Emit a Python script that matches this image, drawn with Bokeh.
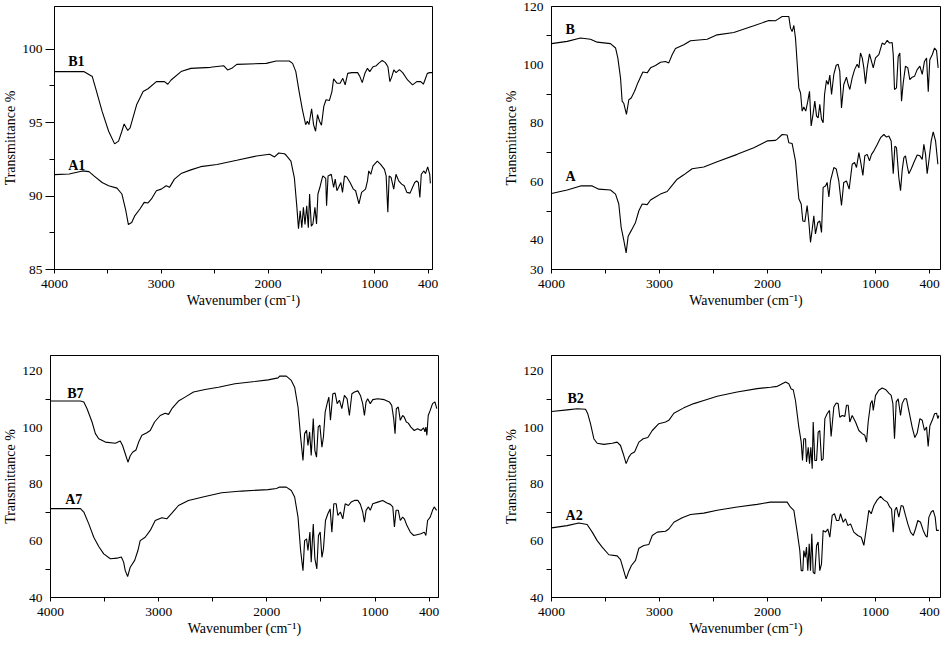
import numpy as np
from bokeh.plotting import figure
from bokeh.models import Range1d, FixedTicker, Label
from bokeh.layouts import column, row
from bokeh.embed import file_html
from bokeh.resources import INLINE

# ---------------- data (wavenumber cm-1, transmittance %) ----------------
b1_w = [4000, 3726, 3646, 3615, 3554, 3493, 3437, 3400, 3369, 3348, 3314, 3292, 3231, 3170, 3124, 3046,
        2970, 2939, 2908, 2815, 2723, 2539, 2416, 2379, 2340, 2293, 2017, 1924, 1801, 1770, 1740, 1709,
        1678, 1648, 1632, 1617, 1592, 1574, 1555, 1537, 1518, 1500, 1478, 1457, 1426, 1402, 1386, 1355,
        1325, 1300, 1278, 1254, 1217, 1161, 1140, 1118, 1093, 1069, 1048, 1017, 983, 958, 917, 882, 853,
        831, 809, 787, 761, 724, 687, 632, 576, 529, 484, 455, 437, 410, 382, 355]
b1_t = [98.47, 98.47, 98.13, 97.34, 95.76, 94.41, 93.55, 93.74, 94.41, 94.91, 94.46, 94.64, 96.21, 97.11,
        97.3, 97.79, 97.79, 97.61, 97.9, 98.47, 98.69, 98.76, 98.87, 98.58, 98.69, 98.96, 99.03, 99.19,
        99.19, 99.03, 98.47, 97.11, 95.87, 94.86, 95.09, 94.86, 95.94, 94.86, 94.41, 95.54, 95.09, 94.82,
        96.1, 96.55, 96.5, 97.11, 97.97, 97.68, 97.68, 98.01, 97.57, 98.35, 98.4, 98.4, 98.13, 97.72,
        98.35, 98.69, 98.47, 98.8, 98.87, 99.03, 99.23, 99.08, 98.8, 97.79, 98.13, 98.58, 98.4, 98.6,
        98.4, 97.9, 97.57, 97.79, 97.79, 97.61, 97.9, 98.35, 98.4, 98.4]

a1_w = [4000, 3862, 3738, 3677, 3631, 3554, 3493, 3415, 3369, 3332, 3308, 3277, 3247, 3200, 3160, 3124,
        3092, 3046, 3000, 2954, 2923, 2877, 2815, 2723, 2631, 2478, 2293, 2109, 1985, 1939, 1900, 1847,
        1832, 1786, 1754, 1730, 1715, 1699, 1684, 1669, 1654, 1638, 1623, 1611, 1595, 1580, 1561, 1546,
        1533, 1515, 1500, 1487, 1460, 1452, 1438, 1408, 1386, 1371, 1355, 1340, 1318, 1303, 1284, 1263,
        1232, 1201, 1180, 1149, 1124, 1087, 1069, 1057, 1038, 1017, 972, 935, 892, 873, 854, 839, 817,
        788, 762, 732, 699, 670, 640, 604, 577, 552, 530, 511, 494, 478, 449, 431, 406, 383, 376]
a1_t = [91.46, 91.5, 91.71, 91.66, 91.37, 90.92, 90.7, 90.54, 90.14, 89.0, 88.06, 88.2, 88.67, 89.12,
        89.57, 89.53, 89.8, 90.36, 90.47, 90.7, 90.59, 91.15, 91.53, 91.78, 92.0, 92.15, 92.43, 92.72,
        92.84, 92.66, 92.93, 92.88, 92.79, 92.38, 91.26, 89.23, 87.77, 89.0, 87.84, 89.23, 88.06, 89.34,
        87.84, 90.14, 87.95, 88.1, 89.23, 88.1, 90.14, 90.58, 91.03, 91.37, 91.2, 89.34, 91.37, 91.48,
        90.58, 91.15, 90.36, 90.58, 90.92, 90.25, 91.37, 91.3, 90.92, 90.47, 90.36, 89.46, 90.25, 90.47,
        91.03, 91.71, 91.48, 92.05, 92.38, 92.15, 91.82, 91.37, 88.89, 91.37, 91.26, 90.47, 91.48, 91.03,
        90.81, 90.7, 90.25, 90.2, 90.58, 90.92, 91.03, 90.92, 89.9, 91.48, 91.71, 91.53, 91.98, 91.48,
        90.86]

b_w = [4000, 3855, 3731, 3639, 3577, 3454, 3407, 3386, 3361, 3346, 3330, 3306, 3284, 3262, 3231, 3201,
       3154, 3114, 3083, 3037, 2991, 2944, 2914, 2883, 2852, 2775, 2713, 2559, 2466, 2312, 2127, 1988,
       1926, 1910, 1864, 1803, 1787, 1772, 1756, 1741, 1710, 1694, 1679, 1664, 1646, 1627, 1611, 1596,
       1581, 1562, 1546, 1531, 1516, 1500, 1485, 1472, 1454, 1438, 1423, 1407, 1386, 1364, 1346, 1331,
       1315, 1294, 1269, 1253, 1238, 1216, 1194, 1170, 1154, 1139, 1123, 1108, 1093, 1077, 1056, 1037,
       1021, 1000, 963, 926, 900, 870, 844, 815, 803, 789, 767, 748, 730, 711, 692, 667, 641, 619, 593,
       567, 537, 507, 481, 456, 433, 414, 397, 370, 344, 322, 304]
b_t = [107.3, 108.07, 109.2, 108.8, 107.8, 107.3, 105.8, 102.4, 95.6, 87.6, 86.8, 83.1, 88.1, 88.7, 91.0,
       93.85, 97.6, 97.3, 99.0, 99.8, 100.9, 101.2, 100.7, 103.5, 105.6, 106.9, 108.3, 108.8, 110.3, 111.1,
       113.4, 115.2, 115.1, 115.5, 116.6, 116.6, 112.6, 111.4, 113.5, 109.2, 92.15, 90.4, 84.2, 85.6, 84.2,
       87.6, 91.0, 79.1, 82.5, 87.6, 82.5, 81.9, 86.5, 81.4, 80.2, 89.9, 94.7, 93.3, 96.5, 89.9, 96.8,
       99.9, 100.2, 97.9, 85.3, 93.3, 95.8, 93.3, 91.6, 95.6, 98.4, 100.2, 99.0, 104.1, 102.4, 99.0, 93.6,
       99.0, 103.8, 101.2, 99.0, 102.4, 103.5, 107.5, 107.0, 108.4, 107.5, 107.7, 103.5, 91.6, 92.15,
       102.9, 104.1, 87.6, 93.9, 99.6, 99.0, 95.0, 95.8, 96.1, 98.4, 99.6, 96.8, 101.2, 102.4, 90.8,
       101.8, 103.5, 105.8, 104.9, 99.0]

a_w = [4000, 3855, 3731, 3623, 3562, 3454, 3407, 3377, 3355, 3330, 3309, 3290, 3262, 3222, 3191, 3160,
       3114, 3083, 3037, 2991, 2929, 2898, 2836, 2775, 2698, 2590, 2466, 2281, 2127, 2003, 1926, 1910,
       1864, 1818, 1803, 1772, 1741, 1710, 1688, 1673, 1654, 1633, 1617, 1602, 1586, 1571, 1556, 1534,
       1516, 1500, 1485, 1463, 1448, 1432, 1417, 1386, 1364, 1340, 1315, 1294, 1269, 1244, 1216, 1194,
       1176, 1154, 1139, 1117, 1099, 1077, 1056, 1037, 1015, 981, 944, 907, 878, 852, 826, 803, 785,
       767, 741, 722, 704, 685, 667, 648, 630, 604, 574, 537, 507, 481, 463, 444, 426, 407, 381, 359,
       333, 307]
a_t = [56.0, 57.2, 58.6, 58.6, 57.5, 57.2, 55.8, 52.4, 44.4, 39.9, 35.7, 41.4, 43.3, 46.1, 50.1, 52.4,
       52.2, 53.8, 54.8, 55.8, 56.7, 58.1, 60.9, 62.4, 64.5, 65.1, 66.9, 69.4, 71.7, 74.0, 74.2, 74.6,
       76.2, 76.0, 73.4, 73.1, 67.2, 54.2, 52.4, 46.6, 46.4, 51.9, 46.1, 39.3, 43.8, 48.4, 42.2, 46.1,
       46.6, 42.7, 58.1, 58.6, 59.8, 54.8, 60.3, 64.9, 64.4, 60.3, 51.9, 59.8, 60.3, 57.5, 66.0, 66.6,
       64.9, 70.0, 67.2, 62.2, 68.9, 69.4, 67.2, 69.4, 70.6, 72.8, 75.1, 76.2, 75.3, 75.7, 74.0, 62.8,
       72.2, 71.7, 61.5, 57.0, 63.9, 68.3, 68.9, 65.5, 62.8, 64.4, 66.6, 69.2, 68.9, 67.7, 72.8, 69.4,
       62.8, 67.2, 74.0, 77.1, 74.0, 66.0]

b7_w = [4000, 3723, 3692, 3662, 3616, 3585, 3554, 3493, 3401, 3355, 3333, 3309, 3284, 3263, 3241, 3210,
        3185, 3155, 3109, 3078, 3038, 2986, 2940, 2909, 2878, 2817, 2756, 2678, 2571, 2448, 2295, 2111,
        1988, 1896, 1882, 1820, 1774, 1743, 1712, 1688, 1666, 1651, 1633, 1620, 1605, 1590, 1571, 1556,
        1541, 1525, 1510, 1491, 1477, 1461, 1443, 1427, 1412, 1390, 1369, 1350, 1329, 1307, 1283, 1258,
        1237, 1214, 1190, 1159, 1135, 1114, 1098, 1083, 1068, 1044, 1021, 970, 897, 841, 815, 793, 778,
        764, 742, 720, 694, 675, 653, 631, 602, 565, 528, 491, 461, 447, 436, 425, 410, 388, 362, 336, 315]
b7_t = [109.4, 109.4, 109.1, 106.7, 102.0, 97.9, 96.1, 94.9, 94.5, 95.3, 93.6, 90.8, 87.8, 90.1, 91.3,
        92.1, 94.9, 97.3, 98.2, 99.0, 102.0, 104.3, 105.1, 104.7, 106.7, 109.4, 110.8, 112.6, 113.5,
        114.3, 115.5, 116.3, 116.9, 117.6, 118.2, 118.2, 116.7, 114.3, 107.3, 96.7, 88.4, 97.9, 99.1,
        93.7, 98.5, 90.2, 103.2, 91.9, 89.6, 100.3, 100.9, 93.1, 96.7, 105.5, 108.5, 110.8, 102.6, 112.0,
        112.2, 108.5, 109.7, 106.7, 111.4, 110.2, 104.3, 112.0, 112.6, 113.0, 111.4, 108.5, 104.3, 109.1,
        110.2, 108.5, 109.9, 110.2, 109.9, 109.1, 107.9, 103.2, 97.9, 106.7, 107.3, 102.6, 104.3, 103.7,
        102.0, 101.6, 100.2, 99.0, 99.6, 99.0, 99.9, 98.5, 100.2, 97.3, 104.3, 106.1, 108.5, 109.1, 106.7]

a7_w = [4000, 3723, 3692, 3646, 3600, 3554, 3508, 3447, 3385, 3345, 3324, 3309, 3287, 3263, 3222, 3192,
        3171, 3125, 3078, 3032, 2971, 2925, 2878, 2817, 2725, 2571, 2418, 2233, 1988, 1911, 1882, 1820,
        1774, 1743, 1712, 1688, 1666, 1651, 1633, 1620, 1602, 1590, 1571, 1556, 1538, 1523, 1507, 1491,
        1477, 1458, 1436, 1415, 1399, 1381, 1359, 1344, 1320, 1298, 1276, 1246, 1221, 1190, 1159, 1135,
        1114, 1098, 1083, 1061, 1044, 1021, 970, 915, 867, 830, 803, 785, 767, 742, 720, 694, 675, 646,
        609, 571, 535, 491, 454, 436, 417, 388, 362, 344, 317]
a7_t = [71.4, 71.4, 70.2, 66.0, 61.3, 58.0, 55.4, 53.7, 53.9, 54.3, 52.5, 49.5, 47.4, 50.7, 53.1, 56.6,
        60.1, 61.3, 63.7, 67.2, 68.2, 67.8, 69.8, 72.5, 74.3, 75.7, 77.0, 77.6, 78.1, 78.5, 79.0, 79.0,
        77.8, 75.5, 68.4, 56.6, 49.5, 60.1, 60.7, 56.6, 63.1, 52.5, 66.0, 53.7, 50.1, 61.9, 63.1, 54.2,
        57.1, 67.2, 69.6, 71.3, 63.1, 73.1, 73.1, 69.0, 70.2, 67.8, 73.1, 72.5, 73.7, 74.3, 74.3, 72.9,
        70.2, 66.6, 70.8, 72.0, 70.8, 73.1, 73.7, 74.3, 73.4, 72.9, 72.0, 64.9, 70.8, 70.8, 67.2, 68.4,
        67.8, 65.4, 63.1, 61.9, 62.2, 62.5, 63.1, 61.9, 67.2, 68.4, 70.8, 72.0, 70.8]

b2_w = [4000, 3855, 3762, 3685, 3664, 3639, 3608, 3577, 3515, 3438, 3392, 3361, 3336, 3309, 3284, 3262,
        3231, 3191, 3151, 3108, 3067, 3006, 2944, 2914, 2867, 2775, 2682, 2590, 2466, 2281, 2096, 1972,
        1910, 1895, 1833, 1803, 1781, 1762, 1741, 1710, 1688, 1676, 1664, 1648, 1639, 1623, 1611, 1599,
        1586, 1577, 1562, 1546, 1531, 1516, 1500, 1485, 1469, 1448, 1426, 1411, 1386, 1364, 1346, 1331,
        1309, 1284, 1269, 1253, 1238, 1216, 1185, 1154, 1123, 1099, 1083, 1068, 1046, 1031, 1021, 1000,
        963, 926, 889, 852, 826, 807, 789, 770, 748, 722, 704, 678, 656, 630, 593, 563, 537, 507, 481,
        456, 433, 415, 396, 370, 344, 322, 307, 296]
b2_t = [105.7, 106.3, 106.7, 106.5, 104.9, 101.4, 96.1, 94.5, 94.1, 94.5, 94.9, 93.7, 90.8, 87.3, 89.6,
        90.8, 91.4, 94.9, 96.1, 96.5, 99.0, 101.4, 102.0, 102.6, 105.1, 107.0, 108.5, 109.6, 111.1, 112.6,
        113.8, 114.3, 114.6, 114.9, 116.1, 115.5, 113.7, 113.4, 109.6, 100.2, 94.9, 88.4, 96.1, 96.1, 87.9,
        93.1, 87.3, 93.1, 85.5, 102.0, 88.4, 88.4, 98.4, 99.0, 88.4, 89.0, 103.2, 104.9, 106.1, 96.9,
        107.3, 108.7, 108.5, 103.7, 104.3, 104.0, 107.9, 107.9, 102.0, 104.3, 102.0, 99.0, 97.9, 97.3,
        94.9, 102.0, 108.5, 109.6, 106.1, 111.4, 113.2, 114.0, 113.5, 112.2, 111.4, 108.5, 96.1, 109.1,
        110.2, 104.3, 108.5, 110.2, 110.2, 106.1, 100.2, 96.5, 98.1, 103.2, 102.6, 99.0, 100.2, 93.4,
        100.7, 102.6, 104.9, 105.1, 103.2, 104.3]

a2_w = [4000, 3855, 3747, 3670, 3623, 3577, 3531, 3469, 3392, 3361, 3336, 3309, 3284, 3260, 3222, 3191,
        3145, 3099, 3067, 3021, 2944, 2914, 2867, 2790, 2713, 2590, 2466, 2281, 2096, 1972, 1895, 1818,
        1787, 1756, 1725, 1701, 1688, 1673, 1664, 1651, 1639, 1627, 1614, 1602, 1590, 1577, 1562, 1546,
        1531, 1516, 1500, 1485, 1463, 1442, 1423, 1401, 1380, 1361, 1340, 1324, 1299, 1278, 1256, 1231,
        1201, 1164, 1132, 1108, 1083, 1062, 1040, 1015, 981, 944, 907, 870, 841, 822, 803, 785, 767, 741,
        715, 693, 667, 641, 611, 581, 556, 530, 500, 470, 444, 426, 407, 381, 359, 337, 322, 296]
a2_t = [64.6, 65.4, 66.3, 65.8, 63.1, 60.1, 57.8, 55.1, 54.7, 53.4, 50.1, 46.6, 49.3, 51.3, 53.1, 57.4,
        58.4, 58.7, 61.9, 63.1, 63.4, 64.2, 66.6, 68.2, 69.3, 69.8, 70.8, 72.0, 72.9, 73.7, 73.7, 73.7,
        71.9, 70.8, 63.1, 56.6, 49.5, 49.5, 56.6, 54.2, 57.8, 49.5, 59.0, 49.5, 62.5, 48.9, 48.4, 58.4,
        59.6, 49.5, 51.9, 63.7, 63.1, 64.2, 61.3, 69.0, 69.6, 67.2, 67.2, 69.6, 66.6, 67.8, 65.4, 66.0,
        63.1, 61.9, 61.3, 58.4, 64.9, 70.8, 69.6, 72.5, 74.5, 75.7, 74.5, 73.7, 71.9, 71.3, 63.1, 70.8,
        71.9, 68.4, 72.5, 72.2, 69.0, 66.0, 63.1, 61.9, 64.2, 67.2, 66.6, 63.7, 61.9, 61.3, 68.4, 70.2,
        70.8, 68.4, 63.7, 63.7]

# curve labels
p1_names, p1_lx, p1_ly = ["B1", "A1"], [3872, 3872], [99.15, 92.1]
p2_names, p2_lx, p2_ly = ["B", "A"], [3870, 3870], [112.2, 61.7]
p3_names, p3_lx, p3_ly = ["B7", "A7"], [3846, 3864], [112.1, 74.6]
p4_names, p4_lx, p4_ly = ["B2", "A2"], [3852, 3870], [110.4, 69.0]

# axis tick values (wavenumber) and y tick values
x_labeled = [4000, 3000, 2000, 1000, 400]
x_minor = [3500, 2500, 1500]
p1_ylab, p1_yminor = [85, 90, 95, 100], [87.5, 92.5, 97.5]
p2_ylab, p2_yminor = [30, 40, 60, 80, 100, 120], [50, 70, 90, 110]
p34_ylab, p34_yminor = [40, 60, 80, 100, 120], [50, 70, 90, 110]

FONT = "Liberation Serif"


def to_u(w):
    """Instrument-style x axis: region below 1000 cm-1 is drawn compressed."""
    w = np.asarray(w, dtype=float)
    return np.where(w >= 1000, w, 1000 - (1000 - w) * 5.0 / 6.0)


def make_panel(width, height, bl, br, bt, bb, x_end_w, y0, y1, ylab, yminor, ymajor_out,
               curves, names, lx, ly):
    p = figure(width=width, height=height, output_backend="svg", toolbar_location=None,
               x_range=Range1d(4000, float(to_u(x_end_w))), y_range=Range1d(y0, y1),
               min_border_left=bl, min_border_right=br, min_border_top=bt, min_border_bottom=bb,
               background_fill_color="white", border_fill_color="white")
    p.xgrid.visible = False
    p.ygrid.visible = False
    p.outline_line_color = "black"
    p.outline_line_alpha = 1.0
    p.outline_line_width = 1

    for w, t in curves:
        p.line(to_u(w), t, line_color="black", line_width=1.1)

    xt = [float(v) for v in to_u(x_labeled)]
    p.xaxis.ticker = FixedTicker(ticks=xt, minor_ticks=[float(v) for v in to_u(x_minor)])
    p.xaxis.major_label_overrides = {k: str(lbl) for k, lbl in zip(xt, x_labeled)}
    p.yaxis.ticker = FixedTicker(ticks=ylab, minor_ticks=yminor)

    for ax in (p.xaxis[0], p.yaxis[0]):
        ax.axis_line_color = "black"
        ax.major_tick_line_color = "black"
        ax.minor_tick_line_color = "black"
        ax.major_tick_in = 0
        ax.minor_tick_in = 0
        ax.major_label_text_font = FONT
        ax.major_label_text_font_size = "13.5px"
        ax.major_label_text_color = "black"
        ax.axis_label_text_font = FONT
        ax.axis_label_text_font_size = "14px"
        ax.axis_label_text_font_style = "normal"
        ax.axis_label_text_color = "black"

    p.xaxis.major_tick_out = 4
    p.xaxis.minor_tick_out = 4
    p.xaxis.major_label_standoff = 6
    p.xaxis.axis_label_standoff = 2
    p.xaxis.axis_label = "Wavenumber (cm\u207b\u00b9)"

    p.yaxis.major_tick_out = ymajor_out
    if ymajor_out == 0:
        p.yaxis.major_tick_line_color = None
    p.yaxis.minor_tick_out = 5
    p.yaxis.major_label_standoff = 3
    p.yaxis.axis_label_standoff = 1
    p.yaxis.axis_label = "Transmittance %"

    for n, x, y in zip(names, lx, ly):
        p.add_layout(Label(x=float(to_u(x)), y=y, text=n, text_font=FONT, text_font_size="14px",
                           text_font_style="bold", text_color="black", text_baseline="alphabetic",
                           text_align="left"))
    return p


p1 = make_panel(470, 320, 48, 38, 6, 51, 352, 85, 102.9, p1_ylab, p1_yminor, 9,
                [(b1_w, b1_t), (a1_w, a1_t)], p1_names, p1_lx, p1_ly)
p2 = make_panel(475, 320, 81, 5, 6, 51, 278, 30, 120, p2_ylab, p2_yminor, 0,
                [(b_w, b_t), (a_w, a_t)], p2_names, p2_lx, p2_ly)
p3 = make_panel(470, 325, 48, 32, 35, 48, 296, 40, 125.5, p34_ylab, p34_yminor, 0,
                [(b7_w, b7_t), (a7_w, a7_t)], p3_names, p3_lx, p3_ly)
p4 = make_panel(475, 325, 81, 5, 35, 48, 278, 40, 125.5, p34_ylab, p34_yminor, 0,
                [(b2_w, b2_t), (a2_w, a2_t)], p4_names, p4_lx, p4_ly)

layout = column(row(p1, p2), row(p3, p4))
open("out.html", "w").write(file_html(layout, INLINE))
